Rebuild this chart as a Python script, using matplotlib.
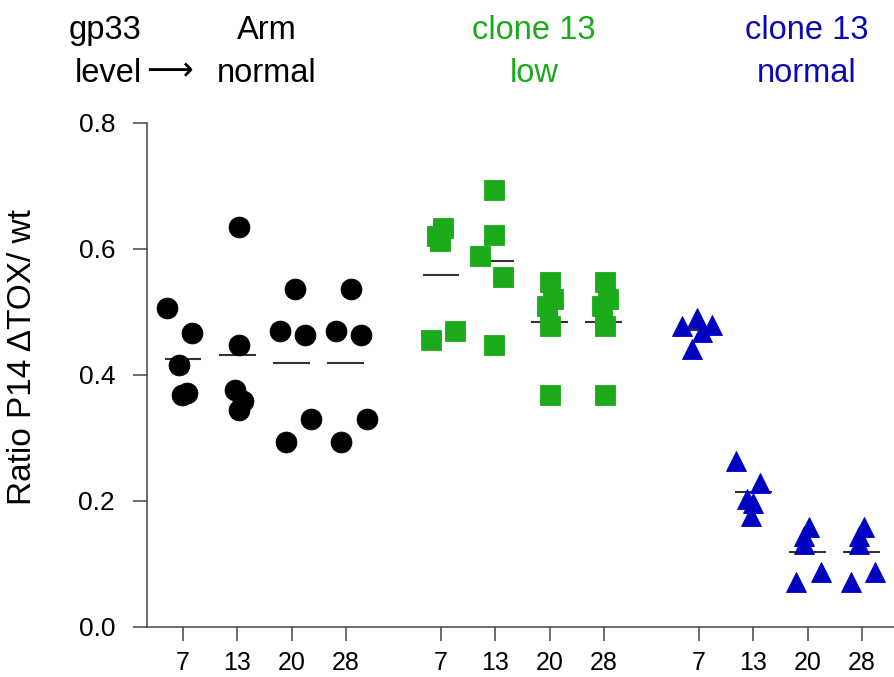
import numpy as np
import matplotlib
matplotlib.use('Agg')
import matplotlib.pyplot as plt

plt.rcParams['font.family'] = ['Liberation Sans', 'DejaVu Sans']

# jours post-infection
days = [7, 13, 20, 28]

# Arm, gp33 normal
arm_vals = [
    [0.507, 0.466, 0.416, 0.368, 0.371],
    [0.635, 0.447, 0.376, 0.358, 0.344],
    [0.537, 0.470, 0.463, 0.330, 0.293],
    [0.537, 0.470, 0.463, 0.330, 0.293],
]
arm_jit = [
    [-0.29, 0.17, -0.07, -0.02, 0.07],
    [0.03, 0.03, -0.05, 0.11, 0.03],
    [0.06, -0.22, 0.24, 0.35, -0.10],
    [0.09, -0.19, 0.27, 0.38, -0.09],
]

# clone 13, gp33 low
low_vals = [
    [0.633, 0.621, 0.612, 0.456, 0.470],
    [0.693, 0.623, 0.589, 0.555, 0.448],
    [0.547, 0.520, 0.510, 0.477, 0.369],
    [0.547, 0.520, 0.510, 0.477, 0.369],
]
low_jit = [
    [0.04, -0.08, -0.02, -0.19, 0.26],
    [-0.02, -0.02, -0.29, 0.15, -0.02],
    [0.01, 0.07, -0.05, 0.01, 0.01],
    [0.02, 0.08, -0.04, 0.02, 0.02],
]

# clone 13, gp33 normal
norm_vals = [
    [0.478, 0.490, 0.480, 0.469, 0.441],
    [0.264, 0.229, 0.203, 0.197, 0.176],
    [0.159, 0.144, 0.131, 0.087, 0.071],
    [0.159, 0.144, 0.131, 0.087, 0.071],
]
norm_jit = [
    [-0.31, -0.04, 0.24, 0.05, -0.13],
    [-0.32, 0.12, -0.12, 0.0, -0.05],
    [0.02, -0.07, -0.06, 0.24, -0.21],
    [0.03, -0.06, -0.05, 0.24, -0.20],
]

groups = [
    (arm_vals, arm_jit, 'o', 15, 'black'),
    (low_vals, low_jit, 's', 14, '#1aaa1a'),
    (norm_vals, norm_jit, '^', 14.5, '#0000c0'),
]
group_start = [0, 4.75, 9.5]

W, H = 894, 677
fig = plt.figure(figsize=(W / 100, H / 100), dpi=100)
ax = fig.add_axes([147 / W, 50 / H, 747 / W, 504 / H])

positions = []
for start, (vals, jit, mk, ms, col) in zip(group_start, groups):
    for i in range(len(days)):
        pos = start + i
        positions.append(pos)
        v = np.array(vals[i])
        ax.hlines(v.mean(), pos - 0.34, pos + 0.34, color='#333333', lw=1.5, zorder=2)
        ax.plot(pos + np.array(jit[i]), v, ls='none', marker=mk, ms=ms,
                color=col, mec=col, mew=0.6, zorder=3)

ax.set_xlim(-0.663, 13.09)
ax.set_ylim(0, 0.8)
ax.set_xticks(positions)
ax.set_xticklabels([str(d) for d in days] * 3, fontsize=18)
ax.set_yticks([0, 0.2, 0.4, 0.6, 0.8])
ax.set_yticklabels(['0.0', '0.2', '0.4', '0.6', '0.8'], fontsize=19)
for s in ['top', 'right']:
    ax.spines[s].set_visible(False)
for s in ['left', 'bottom']:
    ax.spines[s].set_color('#444444')
    ax.spines[s].set_linewidth(1.1)
ax.tick_params(axis='x', length=10, width=1.1, color='#444444', pad=7)
ax.tick_params(axis='y', length=10, width=1.1, color='#444444', pad=13)

fig.text(23 / W, 1 - 357 / H, 'Ratio P14 \u0394TOX/ wt', rotation=90,
         ha='center', va='center', fontsize=24)

# en-tête
def head(x, y, s, col='black', ha='center', **kw):
    fig.text(x / W, 1 - y / H, s, ha=ha, va='baseline', color=col, fontsize=23.5, **kw)

head(105, 39, 'gp33')
head(75, 82, 'level', ha='left')
head(170, 80, '\u27f6', family=['DejaVu Sans'])
head(267, 39, 'Arm')
head(267, 82, 'normal')
head(534, 39, 'clone 13', col='#1aaa1a')
head(534, 82, 'low', col='#1aaa1a')
head(807, 39, 'clone 13', col='#0a0ab4')
head(807, 82, 'normal', col='#0a0ab4')

fig.savefig('out.png', dpi=100)
